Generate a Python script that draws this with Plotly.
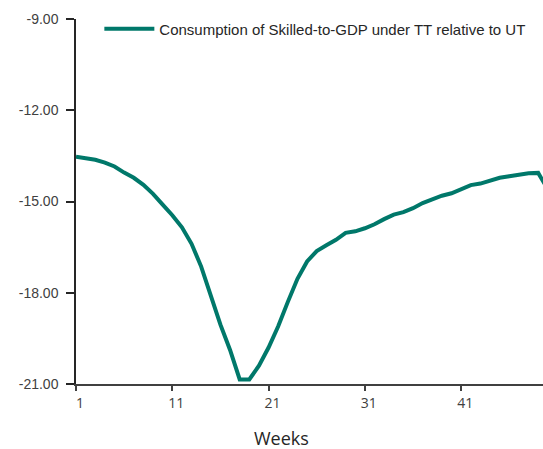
import plotly.graph_objects as go

# Weekly path of skilled-worker consumption relative to GDP, TT vs UT
weeks = list(range(1, 51))
consumption_ratio = [
    -13.53, -13.57, -13.63, -13.72, -13.85, -14.05, -14.22, -14.45, -14.75, -15.10,
    -15.45, -15.85, -16.39, -17.14, -18.10, -19.05, -19.88, -20.85, -20.85, -20.40,
    -19.80, -19.10, -18.30, -17.54, -16.97, -16.63, -16.44, -16.26, -16.03, -15.98,
    -15.88, -15.75, -15.58, -15.43, -15.35, -15.22, -15.05, -14.92, -14.81, -14.73,
    -14.58, -14.46, -14.41, -14.30, -14.22, -14.17, -14.12, -14.07, -14.06, -14.60,
]
x_tick_vals = [1, 11, 21, 31, 41]
y_tick_vals = [-9, -12, -15, -18, -21]
y_tick_text = ["-9.00", "-12.00", "-15.00", "-18.00", "-21.00"]
series_name = "Consumption of Skilled-to-GDP under TT relative to UT"

fig = go.Figure()
fig.add_trace(go.Scatter(
    x=weeks,
    y=consumption_ratio,
    mode="lines",
    name=series_name,
    line=dict(color="#00786A", width=4, shape="linear"),
    showlegend=True,
))

fig.update_layout(
    width=543,
    height=449,
    margin=dict(l=76, r=0, t=19, b=65),
    paper_bgcolor="white",
    plot_bgcolor="white",
    showlegend=True,
    legend=dict(
        x=0.05, y=1.018, xanchor="left", yanchor="top",
        bgcolor="rgba(0,0,0,0)",
        font=dict(family="Liberation Sans", size=15, color="#262626"),
        itemwidth=50,
    ),
    xaxis=dict(
        range=[1, 49.5],
        tickmode="array",
        tickvals=x_tick_vals,
        ticktext=[str(v) for v in x_tick_vals],
        ticks="outside", ticklen=5, tickwidth=1.5, tickcolor="#404040",
        showline=True, linecolor="#404040", linewidth=2,
        showgrid=False, zeroline=False,
        ticklabelshift=4,
        tickfont=dict(family="Open Sans", size=14, color="#404040"),
    ),
    yaxis=dict(
        range=[-21, -9],
        tickmode="array",
        tickvals=y_tick_vals,
        ticktext=y_tick_text,
        ticks="outside", ticklen=8, tickwidth=1.5, tickcolor="#262626",
        showline=True, linecolor="#262626", linewidth=1.5,
        showgrid=False, zeroline=False,
        ticklabelstandoff=5,
        tickfont=dict(family="Liberation Sans", size=14, color="#404040"),
    ),
    annotations=[dict(
        text="Weeks",
        xref="paper", yref="paper",
        x=0.439, y=-0.148,
        xanchor="center", yanchor="middle",
        showarrow=False,
        font=dict(family="Open Sans", size=18, color="#262626"),
    )],
)

fig.write_html("out.html")
